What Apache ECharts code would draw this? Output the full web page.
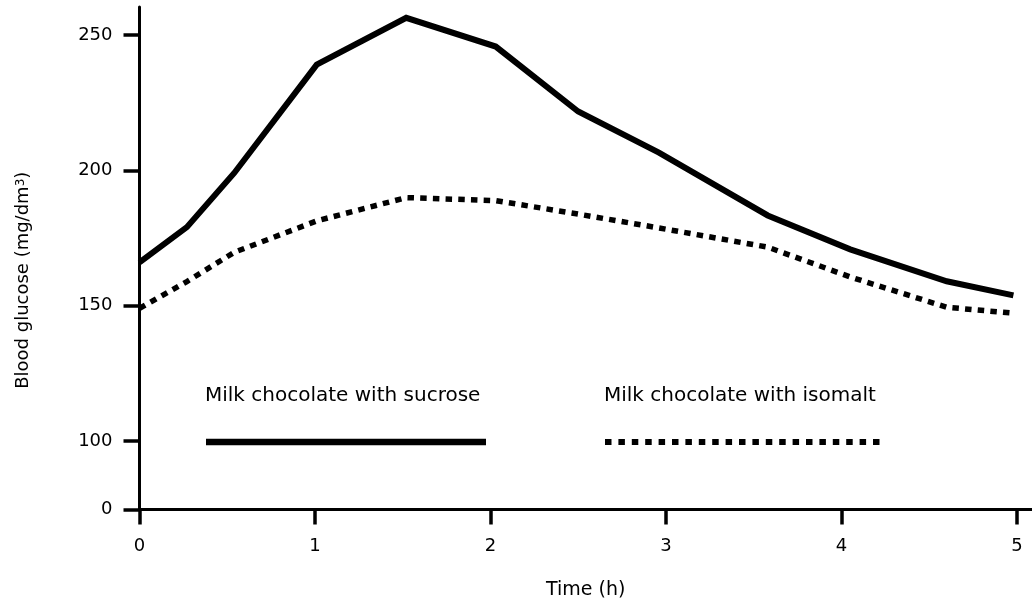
<!DOCTYPE html>
<html>
<head>
<meta charset="utf-8">
<script src="https://cdn.jsdelivr.net/npm/echarts@6/dist/echarts.min.js"></script>
<style>
  html, body { margin: 0; padding: 0; background: #fff; }
  #chart { width: 1032px; height: 600px; }
</style>
</head>
<body>
<div id="chart"></div>
<script>
// ---- data ----
const times   = [0, 0.27, 0.54, 1.01, 1.52, 2.03, 2.5, 2.96, 3.58, 4.05, 4.6, 4.98];
const sucrose = [166, 179, 199, 239, 256.3, 245.7, 221.7, 206.5, 183.3, 170.8, 159, 153.8];
const isomalt = [149, 158.9, 169.7, 181.3, 189.9, 188.8, 183.8, 178.7, 171.6, 160.6, 149.4, 147.2];

const seriesNames = ['Milk chocolate with sucrose', 'Milk chocolate with isomalt'];

const xTicks = [0, 1, 2, 3, 4, 5];
// broken y axis: the "0" tick sits just below the 100 tick
const yTickValues = [74.7, 100, 150, 200, 250];
const yTickLabels = ['0', '100', '150', '200', '250'];

const FONT = '"DejaVu Sans", "Liberation Sans", sans-serif';

const chart = echarts.init(document.getElementById('chart'), null, { renderer: 'canvas' });

const pairs = (xs, ys) => xs.map((x, i) => [x, ys[i]]);

chart.setOption({
  animation: false,
  backgroundColor: '#fff',
  grid: { left: 139.5, right: 0, top: 7, bottom: 90.5, containLabel: false, outerBoundsMode: 'none' },
  xAxis: {
    type: 'value',
    min: 0,
    max: 5.086,
    name: 'Time (h)',
    nameLocation: 'middle',
    nameGap: 71,
    nameTextStyle: { color: '#000', fontSize: 19, fontFamily: FONT },
    axisLine: { show: true, lineStyle: { color: '#000', width: 3 } },
    axisTick: { show: true, inside: false, length: 15, customValues: xTicks,
                lineStyle: { color: '#000', width: 3.5 } },
    axisLabel: { customValues: xTicks, margin: 28, color: '#000', fontSize: 18, fontFamily: FONT },
    splitLine: { show: false }
  },
  yAxis: {
    type: 'value',
    min: 74.7,
    max: 260.3,
    name: 'Blood glucose (mg/dm{sup|3})',
    nameLocation: 'middle',
    nameRotate: 90,
    nameGap: 107,
    nameTextStyle: {
      color: '#000', fontSize: 18, fontFamily: FONT,
      padding: [0, 44, 0, 0],
      rich: { sup: { fontSize: 12, fontFamily: FONT, color: '#000', verticalAlign: 'top' } }
    },
    axisLine: { show: true, lineStyle: { color: '#000', width: 3 } },
    axisTick: { show: true, inside: false, length: 16, customValues: yTickValues,
                lineStyle: { color: '#000', width: 3.5 } },
    axisLabel: {
      customValues: yTickValues,
      margin: 27,
      color: '#000', fontSize: 18, fontFamily: FONT,
      formatter: v => yTickLabels[yTickValues.indexOf(v)] ?? String(v)
    },
    splitLine: { show: false }
  },
  series: [
    {
      name: seriesNames[1],
      type: 'line',
      data: pairs(times, isomalt),
      showSymbol: false,
      symbol: 'none',
      lineStyle: { color: '#000', width: 5.5, type: [6.5, 6.2], cap: 'butt', join: 'miter' },
      z: 2
    },
    {
      name: seriesNames[0],
      type: 'line',
      data: pairs(times, sucrose),
      showSymbol: false,
      symbol: 'none',
      lineStyle: { color: '#000', width: 6, type: 'solid', cap: 'butt', join: 'miter' },
      z: 3
    }
  ],
  graphic: [
    { type: 'text', x: 205, y: 396,
      style: { text: seriesNames[0], font: '20px ' + FONT, fill: '#000', verticalAlign: 'middle', align: 'left' } },
    { type: 'line', shape: { x1: 206, y1: 442, x2: 486, y2: 442 },
      style: { stroke: '#000', lineWidth: 6.5, lineCap: 'butt' } },
    { type: 'text', x: 604, y: 396,
      style: { text: seriesNames[1], font: '20px ' + FONT, fill: '#000', verticalAlign: 'middle', align: 'left' } },
    { type: 'line', shape: { x1: 605, y1: 442, x2: 886, y2: 442 },
      style: { stroke: '#000', lineWidth: 6, lineDash: [6.5, 6.9], lineCap: 'butt' } }
  ]
});
</script>
</body>
</html>
